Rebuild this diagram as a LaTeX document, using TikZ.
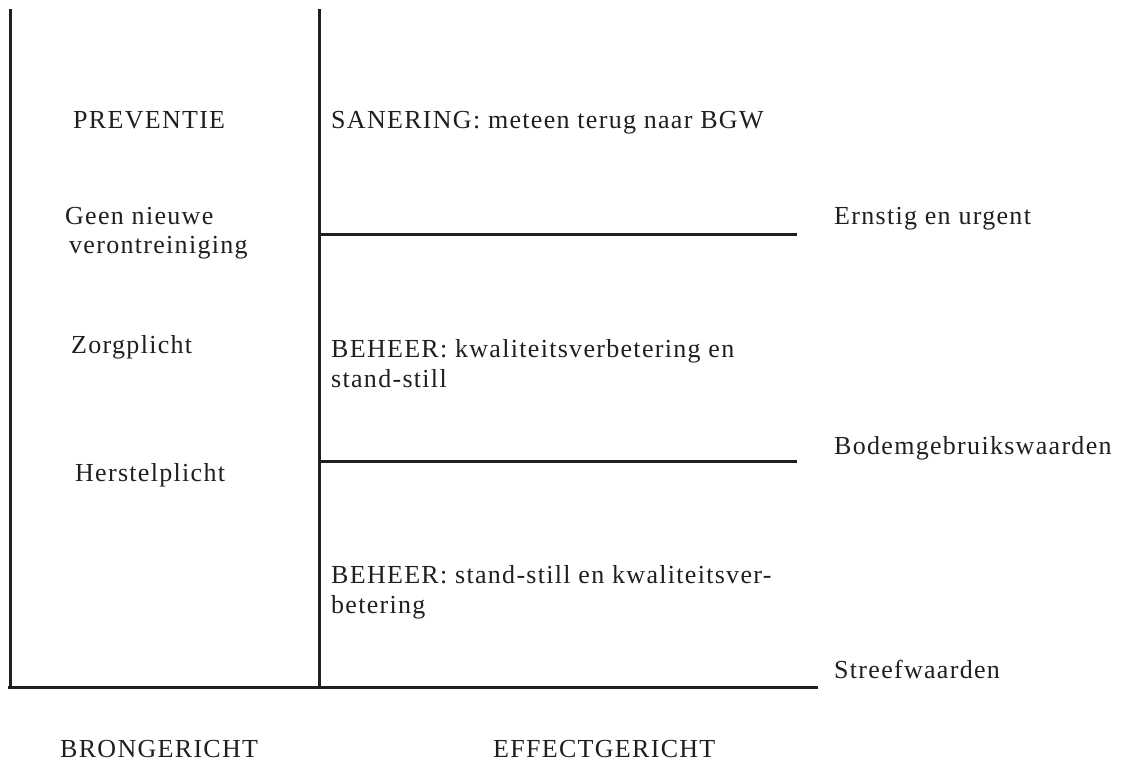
\documentclass[tikz,border=0pt]{standalone}
\usepackage{fontspec}
\setmainfont{Liberation Serif}[LetterSpace=5]
\tikzset{
  rule/.style={line width=3pt, color=black!88},
  lbl/.style={anchor=base west, inner sep=0pt, font=\fontsize{26}{29}\selectfont, text=black!88, align=left},
}
\begin{document}
\begin{tikzpicture}[x=1pt,y=-1pt]
\useasboundingbox (0,0) rectangle (1132,762);
% frame coordinates
\coordinate (lt) at (10,9);
\coordinate (lb) at (10,687);
\coordinate (mt) at (319,9);
\coordinate (bl) at (8,687);
\coordinate (mb) at (319,687);
\coordinate (br) at (818,687);
\coordinate (h1a) at (319,234);
\coordinate (h1b) at (797,234);
\coordinate (h2a) at (319,461);
\coordinate (h2b) at (797,461);
\draw[rule] (lt) -- (lb);
\draw[rule] (mt) -- (mb);
\draw[rule] (bl) -- (br);
\draw[rule] (h1a) -- (h1b);
\draw[rule] (h2a) -- (h2b);
% left column
\node[lbl] (prev) at (73,129) {PREVENTIE};
\node[lbl] (geen) at (65,225) {Geen nieuwe};
\node[lbl] (veront) at (69,253) {verontreiniging};
\node[lbl] (zorg) at (71,353) {Zorgplicht};
\node[lbl] (herst) at (75,481) {Herstelplicht};
% middle column
\node[lbl] (san) at (331,129) {SANERING: meteen terug naar BGW};
\node[lbl] (beh1) at (331,357) {BEHEER: kwaliteitsverbetering en};
\node[lbl] (beh1b) at (331,387) {stand-still};
\node[lbl] (beh2) at (331,583) {BEHEER: stand-still en kwaliteitsver-};
\node[lbl] (beh2b) at (331,613) {betering};
% right labels
\node[lbl] (ernst) at (834,225) {Ernstig en urgent};
\node[lbl] (bodem) at (834,454) {Bodemgebruikswaarden};
\node[lbl] (streef) at (834,678) {Streefwaarden};
% bottom
\node[lbl] (bron) at (60,757) {BRONGERICHT};
\node[lbl] (eff) at (493,757) {EFFECTGERICHT};
\end{tikzpicture}
\end{document}
